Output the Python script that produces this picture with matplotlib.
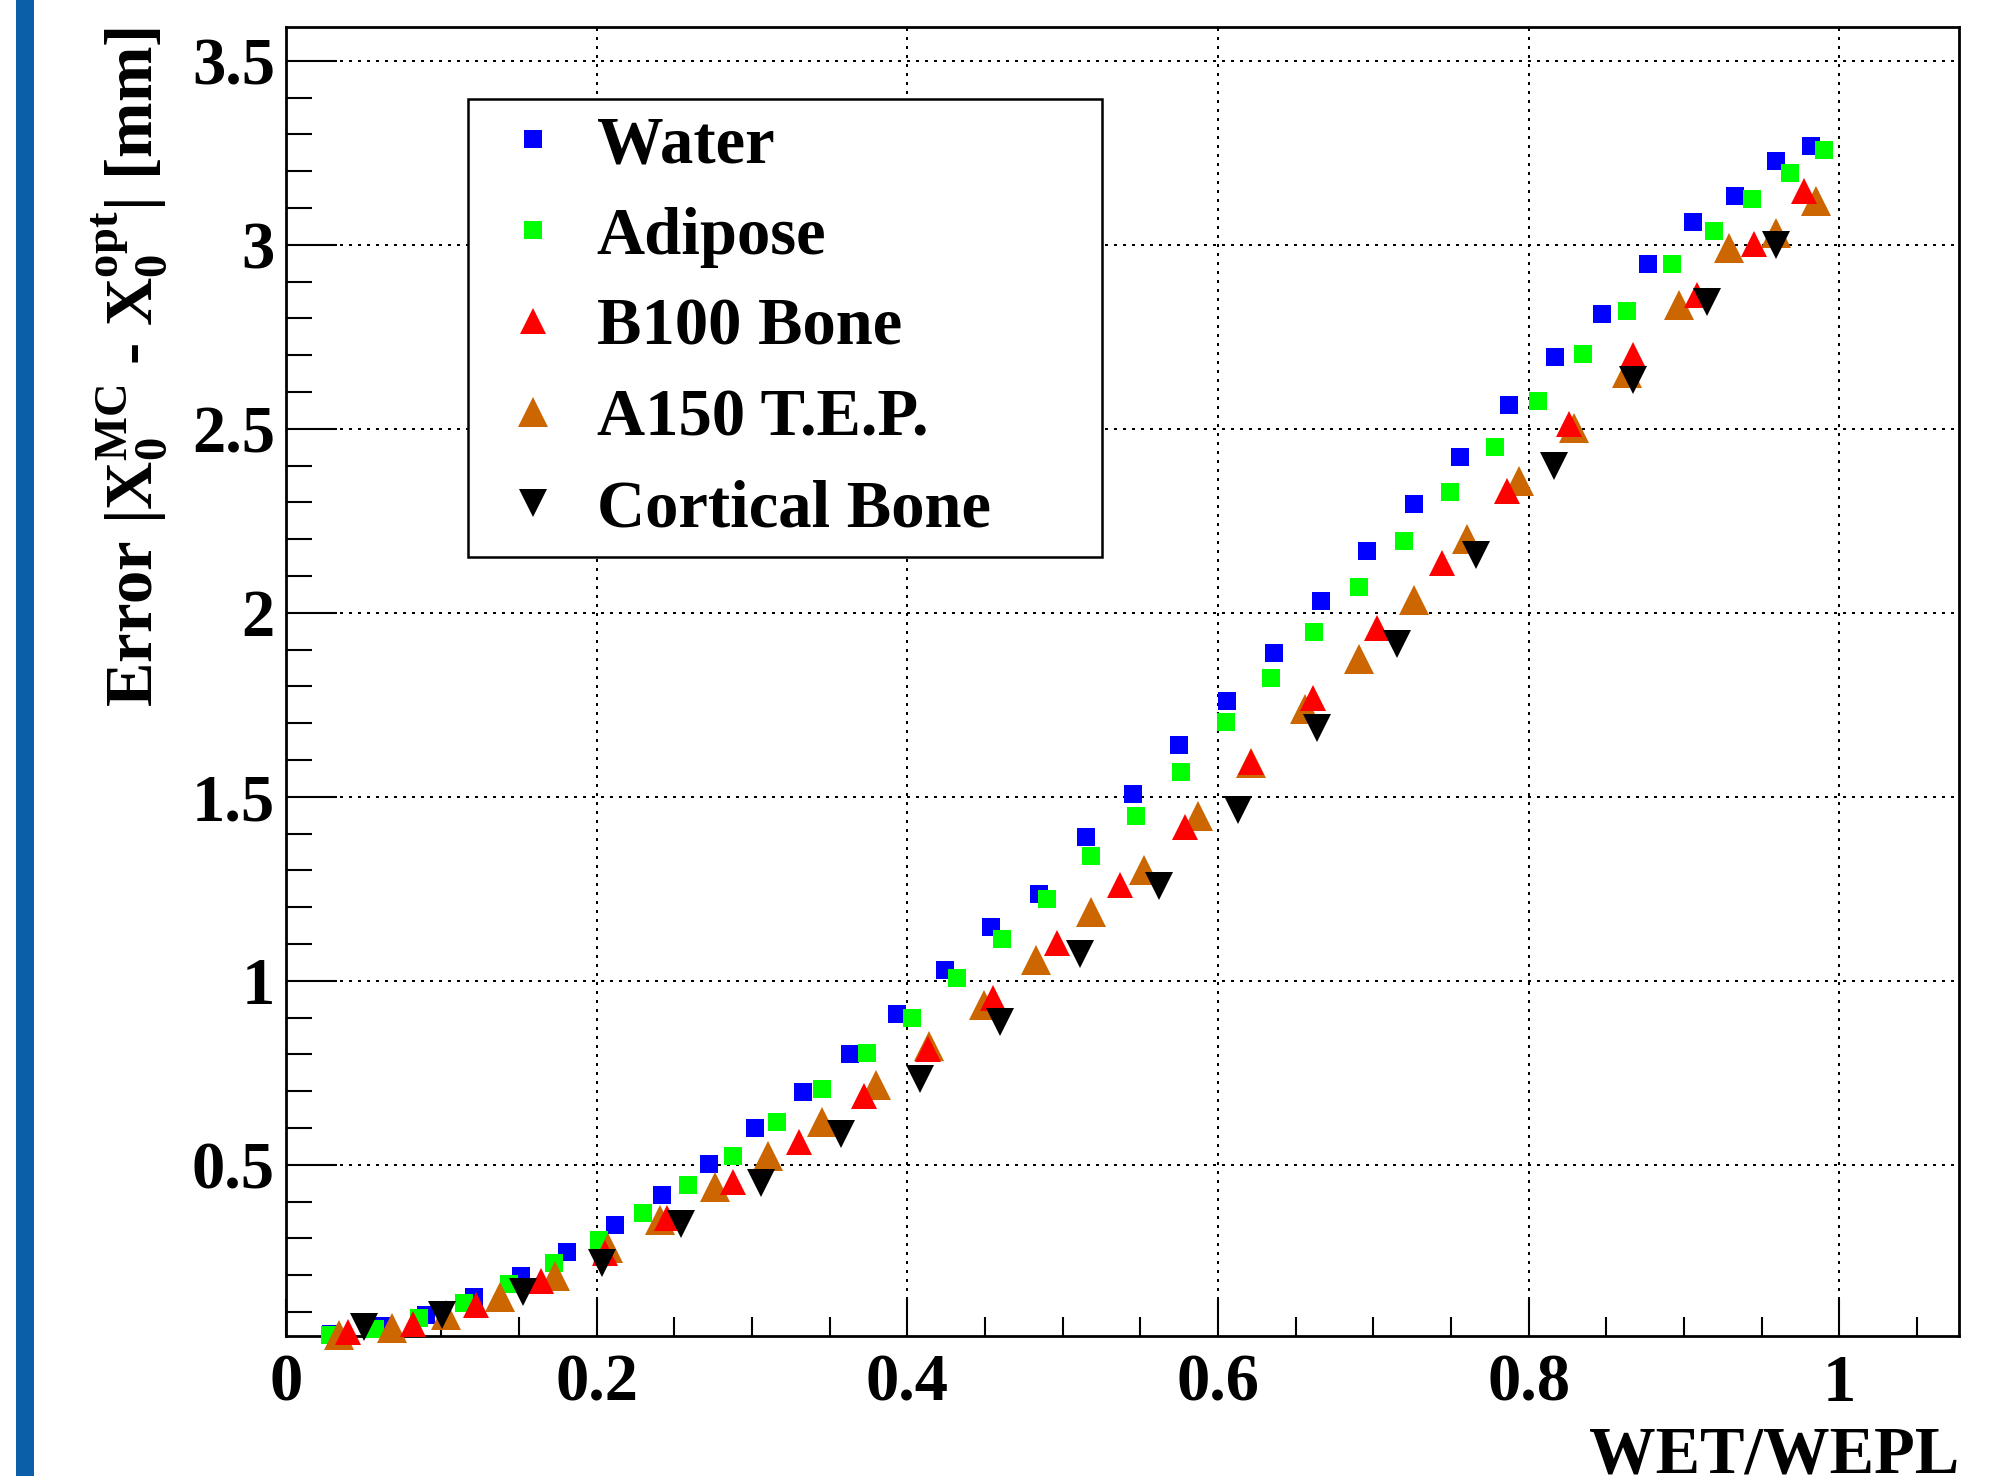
import matplotlib.pyplot as plt
from matplotlib.patches import Rectangle
from matplotlib.ticker import MultipleLocator

# values
water_x = [0.029, 0.061, 0.090, 0.121, 0.151, 0.181, 0.212, 0.242, 0.272, 0.302, 0.333,
           0.363, 0.393, 0.424, 0.454, 0.485, 0.515, 0.545, 0.575, 0.606, 0.636, 0.666,
           0.696, 0.726, 0.756, 0.787, 0.817, 0.847, 0.877, 0.906, 0.933, 0.959, 0.982]
water_y = [0.040, 0.063, 0.093, 0.140, 0.197, 0.263, 0.336, 0.417, 0.503, 0.600, 0.698,
           0.801, 0.911, 1.030, 1.145, 1.236, 1.390, 1.508, 1.640, 1.759, 1.892, 2.031,
           2.169, 2.295, 2.423, 2.564, 2.694, 2.811, 2.948, 3.063, 3.133, 3.227, 3.267]

adipose_x = [0.0285, 0.0573, 0.0858, 0.1148, 0.1436, 0.1724, 0.2012, 0.2299, 0.2587,
             0.2875, 0.3163, 0.345, 0.3738, 0.403, 0.432, 0.461, 0.490, 0.518, 0.547,
             0.576, 0.605, 0.634, 0.662, 0.691, 0.720, 0.749, 0.778, 0.806, 0.835,
             0.863, 0.892, 0.919, 0.944, 0.968, 0.990]
adipose_y = [0.038, 0.054, 0.084, 0.124, 0.175, 0.234, 0.297, 0.369, 0.444, 0.525,
             0.615, 0.705, 0.803, 0.900, 1.007, 1.114, 1.223, 1.338, 1.449, 1.567,
             1.702, 1.822, 1.948, 2.070, 2.194, 2.327, 2.451, 2.576, 2.703, 2.820,
             2.948, 3.038, 3.123, 3.194, 3.258]

b100_x = [0.040, 0.082, 0.122, 0.164, 0.2055, 0.245, 0.288, 0.330, 0.372, 0.413, 0.455,
          0.496, 0.537, 0.579, 0.621, 0.661, 0.702, 0.744, 0.786, 0.826, 0.867, 0.908,
          0.945, 0.977]
b100_y = [0.045, 0.067, 0.118, 0.183, 0.259, 0.355, 0.453, 0.561, 0.688, 0.816, 0.953,
          1.104, 1.259, 1.418, 1.595, 1.769, 1.959, 2.136, 2.331, 2.514, 2.700, 2.863,
          3.002, 3.145]

a150_x = [0.034, 0.0685, 0.103, 0.1375, 0.173, 0.207, 0.241, 0.276, 0.3105, 0.345,
          0.380, 0.414, 0.449, 0.483, 0.518, 0.552, 0.587, 0.621, 0.656, 0.691, 0.726,
          0.760, 0.794, 0.829, 0.863, 0.897, 0.929, 0.959, 0.985]
a150_y = [0.037, 0.057, 0.093, 0.140, 0.197, 0.274, 0.351, 0.439, 0.523, 0.616, 0.717,
          0.823, 0.934, 1.056, 1.187, 1.302, 1.447, 1.593, 1.738, 1.873, 2.034, 2.201,
          2.358, 2.502, 2.651, 2.836, 2.992, 3.033, 3.120]

cortical_x = [0.050, 0.1005, 0.1525, 0.2035, 0.2544, 0.306, 0.357, 0.408, 0.4595, 0.511,
              0.562, 0.613, 0.664, 0.715, 0.766, 0.816, 0.867, 0.915, 0.959]
cortical_y = [0.058, 0.091, 0.155, 0.234, 0.338, 0.451, 0.585, 0.734, 0.889, 1.074,
              1.257, 1.465, 1.687, 1.914, 2.158, 2.399, 2.633, 2.845, 3.000]

x_ticks = [0, 0.2, 0.4, 0.6, 0.8, 1]
x_ticklabels = ["0", "0.2", "0.4", "0.6", "0.8", "1"]
y_ticks = [0.5, 1, 1.5, 2, 2.5, 3, 3.5]
y_ticklabels = ["0.5", "1", "1.5", "2", "2.5", "3", "3.5"]

plt.rcParams["font.family"] = ["Liberation Serif", "DejaVu Serif"]
plt.rcParams["font.weight"] = "bold"
plt.rcParams["mathtext.fontset"] = "custom"
plt.rcParams["mathtext.rm"] = "Liberation Serif:bold"
plt.rcParams["mathtext.it"] = "Liberation Serif:bold"
plt.rcParams["mathtext.bf"] = "Liberation Serif:bold"

fs = 48

fig = plt.figure(figsize=(19.99, 14.76), dpi=100)
ax = fig.add_axes([0.1431, 0.0949, 0.980 - 0.1431, 0.9818 - 0.0949])

# blue strip on the left edge of the picture
fig.patches.append(Rectangle((0.0078, 0.0), 0.009, 1.0, transform=fig.transFigure,
                             facecolor="#0B5EA8", edgecolor="none"))

series = [
    (water_x, water_y, "s", 13.5, "#0000FF", "Water", 3),
    (adipose_x, adipose_y, "s", 13.5, "#00FF00", "Adipose", 4),
    (b100_x, b100_y, "^", 18.3, "#FF0000", "B100 Bone", 6),
    (a150_x, a150_y, "^", 21.7, "#CC6600", "A150 T.E.P.", 5),
    (cortical_x, cortical_y, "v", 19.7, "#000000", "Cortical Bone", 7),
]
for xs, ys, mk, ms, col, lab, z in series:
    ax.plot(xs, ys, linestyle="none", marker=mk, markersize=ms, color=col,
            markeredgewidth=0, label=lab, zorder=z, clip_on=False)

ax.set_xlim(0, 1.077)
ax.set_ylim(0.035, 3.592)

ax.set_xticks(x_ticks)
ax.set_xticklabels(x_ticklabels)
ax.set_yticks(y_ticks)
ax.set_yticklabels(y_ticklabels)
ax.xaxis.set_minor_locator(MultipleLocator(0.05))
ax.yaxis.set_minor_locator(MultipleLocator(0.1))

ax.tick_params(axis="both", which="both", direction="in", width=1.5, color="black",
               labelsize=fs, top=False, right=False)
ax.tick_params(axis="x", which="major", length=27, pad=13)
ax.tick_params(axis="x", which="minor", length=14)
ax.tick_params(axis="y", which="major", length=37, pad=8)
ax.tick_params(axis="y", which="minor", length=19)

for s in ax.spines.values():
    s.set_linewidth(2.0)

ax.grid(True, which="major", color="black", linewidth=1.44, linestyle=(0, (1.5, 3)))
ax.set_axisbelow(True)

# axis titles sit at the far ends of the axes, as in the original
ax.text(1.0, -0.104, "WET/WEPL", transform=ax.transAxes, ha="right", va="baseline",
        fontsize=fs, fontweight="bold")
ax.text(-0.080, 1.0,
        r"Error $|\mathrm{X}_{0}^{\mathrm{MC}}$ - $\mathrm{X}_{0}^{\mathrm{opt}}|$ [mm]",
        transform=ax.transAxes, rotation=90, rotation_mode="anchor", ha="right",
        va="baseline", fontsize=fs, fontweight="bold")

leg = ax.legend(loc="upper left", bbox_to_anchor=(0.1088, 0.0, 0.3787, 0.9449),
                mode="expand", fontsize=fs, frameon=True, fancybox=False,
                edgecolor="black", framealpha=1.0, borderpad=0.25, labelspacing=0.45,
                handlelength=1.44, handletextpad=0.24, numpoints=1, borderaxespad=0)
leg.get_frame().set_linewidth(1.8)
leg.set_zorder(10)

fig.savefig("out.png", dpi=100)
